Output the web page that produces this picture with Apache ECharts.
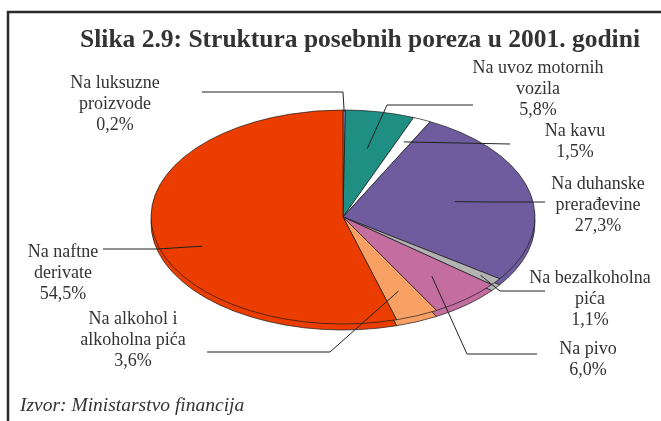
<!DOCTYPE html>
<html>
<head>
<meta charset="utf-8">
<script src="https://cdn.jsdelivr.net/npm/echarts@6/dist/echarts.min.js"></script>
<style>
  html, body { margin: 0; background: #fff; }
  #chart { width: 661px; height: 421px; }
</style>
</head>
<body>
<div id="chart"></div>
<script>
"use strict";

// slice order: clockwise from 12 o'clock
const NAMES = [
  "Na luksuzne\nproizvode",
  "Na uvoz motornih\nvozila",
  "Na kavu",
  "Na duhanske\nprerađevine",
  "Na bezalkoholna\npića",
  "Na pivo",
  "Na alkohol i\nalkoholna pića",
  "Na naftne\nderivate",
];
const VALUES = [0.2, 5.8, 1.5, 27.3, 1.1, 6.0, 3.6, 54.5];
const COLORS = ["#8C8CC8", "#1F8F84", "#FFFFFF", "#6F5C9E", "#B3B3B3", "#C46EA0", "#F9A165", "#EB3D00"];

// label layout: text centre, leader line start/elbow, anchor depth in slice
const LABEL_POS = [
  { tx: 115, ty: 104, p0: [202, 92], p1: [343, 92], f: 0.98, dy: 0 },
  { tx: 538, ty: 89, p0: [473, 105], p1: [387, 105], f: 0.65, dy: 0 },
  { tx: 575, ty: 142, p0: [510, 144], p1: [510, 144], f: 0.77, dy: 0 },
  { tx: 598, ty: 205, p0: [545, 202], p1: [490, 202], f: 0.6, dy: 0 },
  { tx: 590, ty: 299, p0: [545, 291], p1: [500, 291], f: 0.9, dy: 0 },
  { tx: 588, ty: 360, p0: [537, 354], p1: [467, 354], f: 0.72, dy: 0 },
  { tx: 133, ty: 340, p0: [207, 352], p1: [330, 352], f: 0.75, dy: 0 },
  { tx: 63, ty: 273, p0: [103, 249], p1: [157, 249], f: 0.74, dy: 18 },
];

const CX = 343, CY = 217, RX = 192, RY = 107, DEPTH = 6;
const SERIF = "Liberation Serif";

function angles(i) {
  const total = VALUES.reduce((a, b) => a + b, 0);
  let before = 0;
  for (let k = 0; k < i; k++) before += VALUES[k];
  const a0 = -Math.PI / 2 + before / total * 2 * Math.PI;
  return [a0, a0 + VALUES[i] / total * 2 * Math.PI];
}

function sector(i, dy) {
  const [a0, a1] = angles(i);
  return {
    type: "sector",
    shape: { cx: CX, cy: CY, r: RX, r0: 0, startAngle: a0, endAngle: a1, clockwise: true },
    scaleY: RY / RX, originX: CX, originY: CY, y: dy,
    style: { fill: COLORS[i], stroke: "#1a1a1a", lineWidth: 0.9, strokeNoScale: true },
  };
}

function fmtPct(v) {
  return v.toFixed(1).replace(".", ",") + "%";
}

function renderLabel(params) {
  const i = params.dataIndex;
  const L = LABEL_POS[i];
  const [a0, a1] = angles(i);
  const mid = (a0 + a1) / 2;
  const inner = [CX + RX * L.f * Math.cos(mid), CY + RY * L.f * Math.sin(mid) + L.dy];
  return {
    type: "group",
    children: [
      {
        type: "polyline",
        shape: { points: [L.p0, L.p1, inner] },
        style: { stroke: "#222", lineWidth: 1, fill: null },
      },
      {
        type: "text",
        style: {
          text: NAMES[i] + "\n" + fmtPct(VALUES[i]),
          x: L.tx, y: L.ty, align: "center", verticalAlign: "middle",
          fontFamily: SERIF, fontSize: 18, lineHeight: 21, fill: "#333",
        },
      },
    ],
  };
}

const chart = echarts.init(document.getElementById("chart"));
chart.setOption({
  animation: false,
  title: {
    text: "Slika 2.9: Struktura posebnih poreza u 2001. godini",
    left: 355, top: 22, textAlign: "center",
    textStyle: { fontFamily: SERIF, fontWeight: "bold", fontSize: 25.5, color: "#333" },
  },
  graphic: [
    {
      type: "rect", z: 0, silent: true,
      shape: { x: 8, y: 12, width: 720, height: 500 },
      style: { fill: null, stroke: "#2a2a2a", lineWidth: 2.5 },
    },
    {
      type: "text", left: 20, top: 396,
      style: { text: "Izvor: Ministarstvo financija", fontFamily: SERIF, fontStyle: "italic", fontSize: 19.5, fill: "#333" },
    },
  ],
  series: [
    {
      type: "custom", coordinateSystem: "none", z: 1,
      data: VALUES,
      renderItem: params => sector(params.dataIndex, DEPTH),
    },
    {
      type: "custom", coordinateSystem: "none", z: 2,
      data: VALUES,
      renderItem: params => sector(params.dataIndex, 0),
    },
    {
      type: "custom", coordinateSystem: "none", z: 3,
      data: VALUES,
      renderItem: renderLabel,
    },
  ],
});
</script>
</body>
</html>
